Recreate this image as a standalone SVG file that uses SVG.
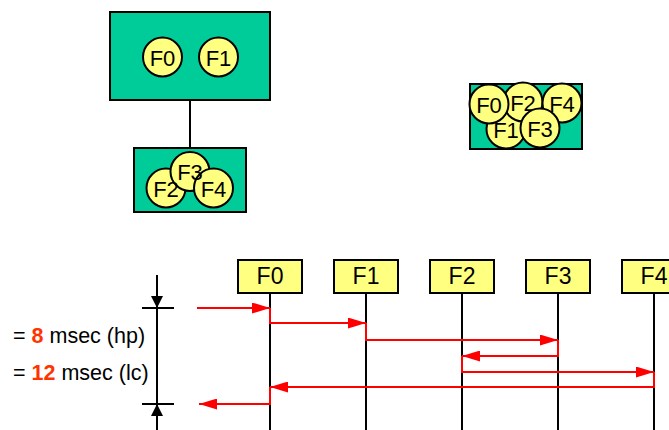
<svg xmlns="http://www.w3.org/2000/svg" width="669" height="430" viewBox="0 0 669 430">
<style>
.box{fill:#00CC99;stroke:#000;stroke-width:2}
.c{fill:#FFFF80;stroke:#000;stroke-width:2}
.t{font-family:"Liberation Sans",Arial,sans-serif;font-size:22px;fill:#000;text-anchor:middle}
.obj{fill:#FFFF80;stroke:#000;stroke-width:2}
.ot{font-family:"Liberation Sans",Arial,sans-serif;font-size:23px;fill:#000;text-anchor:middle}
.life{stroke:#000;stroke-width:2;fill:none}
.msg{stroke:#FF0000;stroke-width:2;fill:none;marker-end:url(#ah)}
.lbl{font-family:"Liberation Sans",Arial,sans-serif;font-size:21.5px;fill:#000}
.num{fill:#FF3300;font-weight:bold}
</style>
<defs>
<marker id="ah" markerUnits="userSpaceOnUse" markerWidth="18" markerHeight="11" refX="18" refY="5.5" orient="auto">
<path d="M0,0 L18,5.5 L0,11 z" fill="#FF0000"/>
</marker>
</defs>

<g id="connectors">
<line class="life" x1="190" y1="100" x2="190" y2="148"/>
<line class="life" x1="270" y1="293" x2="270" y2="430"/>
<line class="life" x1="366" y1="293" x2="366" y2="430"/>
<line class="life" x1="462" y1="293" x2="462" y2="430"/>
<line class="life" x1="558" y1="293" x2="558" y2="430"/>
<line class="life" x1="654" y1="293" x2="654" y2="430"/>
<path class="msg" d="M197,308 H270"/>
<path class="msg" d="M270,308 V323 H366"/>
<path class="msg" d="M366,323 V340 H558"/>
<path class="msg" d="M558,340 V356 H462"/>
<path class="msg" d="M462,356 V372 H654"/>
<path class="msg" d="M654,372 V387 H270"/>
<path class="msg" d="M270,387 V404 H199"/>
</g>

<g id="interval">
<line class="life" x1="157" y1="275" x2="157" y2="430"/>
<line class="life" x1="142" y1="308" x2="174" y2="308"/>
<line class="life" x1="142" y1="404" x2="174" y2="404"/>
<path d="M151,296 L163,296 L157,308 z" fill="#000"/>
<path d="M151,416 L163,416 L157,404 z" fill="#000"/>
<text class="lbl" x="13" y="343">= <tspan class="num">8</tspan> msec (hp)</text>
<text class="lbl" x="13" y="380">= <tspan class="num">12</tspan> msec (lc)</text>
</g>

<g id="groupA">
<rect class="box" x="110" y="12" width="160" height="88"/>
<circle class="c" cx="162.5" cy="57" r="19.5"/>
<circle class="c" cx="218.5" cy="57" r="19.5"/>
<text class="t" x="162.5" y="65.5">F0</text>
<text class="t" x="218.5" y="65.5">F1</text>
</g>

<g id="groupB">
<rect class="box" x="134" y="148" width="112" height="64"/>
<circle class="c" cx="166" cy="188" r="19.5"/>
<circle class="c" cx="190" cy="171.5" r="19.5"/>
<circle class="c" cx="213.5" cy="188" r="19.5"/>
<text class="t" x="166" y="196.5">F2</text>
<text class="t" x="190" y="180">F3</text>
<text class="t" x="213.5" y="196.5">F4</text>
</g>

<g id="groupC">
<rect class="box" x="470" y="84" width="112" height="65"/>
<circle class="c" cx="506" cy="129" r="19.5"/>
<text class="t" x="506" y="137.5">F1</text>
<circle class="c" cx="523" cy="102" r="19.5"/>
<text class="t" x="523" y="110.5">F2</text>
<circle class="c" cx="562" cy="103" r="19.5"/>
<text class="t" x="562" y="111.5">F4</text>
<circle class="c" cx="489" cy="104" r="19.5"/>
<text class="t" x="489" y="112.5">F0</text>
<circle class="c" cx="540" cy="128" r="19.5"/>
<text class="t" x="540" y="136.5">F3</text>
</g>

<g id="F0"><rect class="obj" x="238" y="260" width="64" height="33"/><text class="ot" x="270" y="284">F0</text></g>
<g id="F1"><rect class="obj" x="334" y="260" width="64" height="33"/><text class="ot" x="366" y="284">F1</text></g>
<g id="F2"><rect class="obj" x="430" y="260" width="64" height="33"/><text class="ot" x="462" y="284">F2</text></g>
<g id="F3"><rect class="obj" x="526" y="260" width="64" height="33"/><text class="ot" x="558" y="284">F3</text></g>
<g id="F4"><rect class="obj" x="622" y="260" width="64" height="33"/><text class="ot" x="654" y="284">F4</text></g>
</svg>
